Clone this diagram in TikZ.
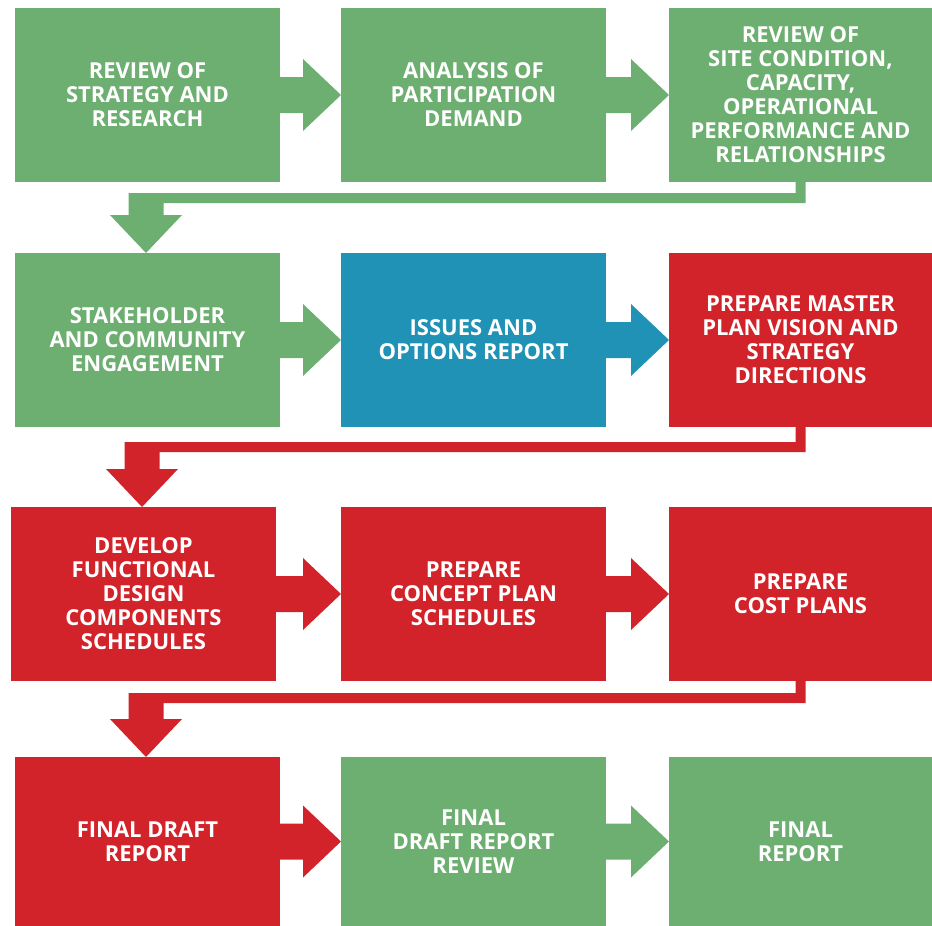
\documentclass[tikz,border=0pt]{standalone}
\usepackage{fontspec}
\setmainfont{Open Sans}
\usepackage{xcolor}
\usepackage{tikz}
\usetikzlibrary{positioning,calc}

\definecolor{stgreen}{RGB}{109,174,113}
\definecolor{stblue}{RGB}{32,146,181}
\definecolor{stred}{RGB}{210,35,42}

\begin{document}
\begin{tikzpicture}[x=1pt, y=1pt, node distance=0pt, outer sep=0pt,
    stage/.style={rectangle, inner sep=0pt, minimum width=265pt, minimum height=174pt,
      align=center, text=white, font=\fontsize{22}{24}\selectfont\bfseries}]
        \useasboundingbox (0,0) rectangle (932,-926);

        % Row 1
        \node [stage, fill=stgreen, anchor=north west] (Strategy) at (15,-8) {REVIEW OF\\STRATEGY AND\\RESEARCH};
        \node [stage, fill=stgreen, right=61pt of Strategy] (Demand) {ANALYSIS OF\\PARTICIPATION\\DEMAND};
        \node [stage, fill=stgreen, minimum width=263pt, right=63pt of Demand] (Site) {REVIEW OF\\SITE CONDITION,\\CAPACITY,\\OPERATIONAL\\PERFORMANCE AND\\RELATIONSHIPS};

        % Row 2
        \node [stage, fill=stgreen, below=71pt of Strategy] (Engage) {STAKEHOLDER\\AND COMMUNITY\\ENGAGEMENT};
        \node [stage, fill=stblue, right=61pt of Engage] (Issues) {ISSUES AND\\OPTIONS REPORT};
        \node [stage, fill=stred, minimum width=263pt, right=63pt of Issues] (Vision) {PREPARE MASTER\\PLAN VISION AND\\STRATEGY\\DIRECTIONS};

        % Row 3
        \node [stage, fill=stred, below=80pt of Engage, xshift=-4pt] (Design) {DEVELOP\\FUNCTIONAL\\DESIGN\\COMPONENTS\\SCHEDULES};
        \node [stage, fill=stred, right=65pt of Design] (Concept) {PREPARE\\CONCEPT PLAN\\SCHEDULES};
        \node [stage, fill=stred, minimum width=263pt, right=63pt of Concept] (Cost) {PREPARE\\COST PLANS};

        % Row 4
        \node [stage, fill=stred, minimum height=169pt, below=76pt of Design, xshift=4pt] (Draft) {FINAL DRAFT\\REPORT};
        \node [stage, fill=stgreen, minimum height=169pt, right=61pt of Draft] (DraftReview) {FINAL\\DRAFT REPORT\\REVIEW};
        \node [stage, fill=stgreen, minimum height=169pt, minimum width=263pt, right=63pt of DraftReview] (Final) {FINAL\\REPORT};

        % Arrows along the rows
        \foreach \a/\b/\c in {Strategy/Demand/stgreen, Demand/Site/stgreen,
                              Engage/Issues/stgreen, Issues/Vision/stblue,
                              Design/Concept/stred, Concept/Cost/stred,
                              Draft/DraftReview/stred, DraftReview/Final/stgreen}
          \fill [\c] ($(\a.east)+(0,18)$) -- ($(\b.west)+(-38,18)$) -- ($(\b.west)+(-38,36)$)
            -- (\b.west) -- ($(\b.west)+(-38,-36)$) -- ($(\b.west)+(-38,-18)$)
            -- ($(\a.east)+(0,-18)$) -- cycle;

        % Arrows down to the next row
        \foreach \s/\t/\c/\g in {Site/Engage/stgreen/11, Vision/Design/stred/15, Cost/Draft/stred/12} {
          \coordinate (bandtop) at ($(\s.south)+(0,-\g)$);
          \coordinate (bandbot) at ($(\s.south)+(0,-\g-10)$);
          \coordinate (neck) at ($(\t.north)+(-1.5,38)$);
          \fill [\c] ($(\s.south)+(5,1)$) -- ($(bandbot)+(5,0)$) -- ($(bandbot -| neck)+(17.5,0)$)
            -- ($(neck)+(17.5,0)$) -- ($(neck)+(36,0)$) -- ($(\t.north)+(-1.5,0)$)
            -- ($(neck)+(-36,0)$) -- ($(neck)+(-17.5,0)$) -- ($(bandtop -| neck)+(-17.5,0)$)
            -- ($(bandtop)+(-5,0)$) -- ($(\s.south)+(-5,1)$) -- cycle;
        }
    \end{tikzpicture}
\end{document}
